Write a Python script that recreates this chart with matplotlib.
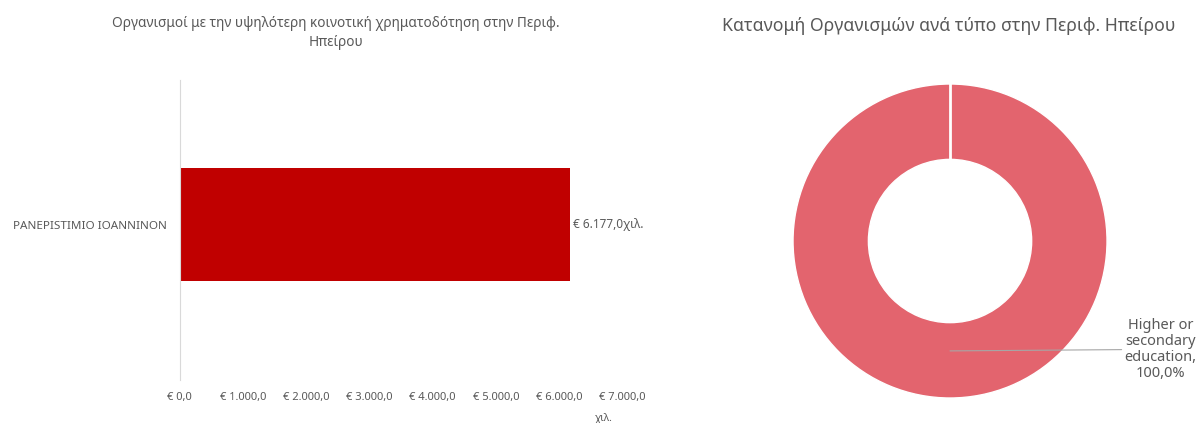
import matplotlib
matplotlib.use('Agg')
import matplotlib.pyplot as plt
from matplotlib.ticker import FuncFormatter

plt.rcParams['font.family'] = ['Noto Sans', 'DejaVu Sans']

# bar chart data (thousand euro)
orgs = ['PANEPISTIMIO IOANNINON']
funding = [6177.0]
x_ticks = [0, 1000, 2000, 3000, 4000, 5000, 6000, 7000]

# donut data
org_types = ['Higher or\nsecondary\neducation']
type_share = [100.0]

bar_title = 'Οργανισμοί με την υψηλότερη κοινοτική χρηματοδότηση στην Περιφ.\nΗπείρου'
pie_title = 'Κατανομή Οργανισμών ανά τύπο στην Περιφ. Ηπείρου'

text_col = '#595959'


def euro(v, pos=None):
    s = f'{v:,.1f}'.replace(',', 'X').replace('.', ',').replace('X', '.')
    return '€ ' + s


fig = plt.figure(figsize=(11.99, 4.23), dpi=100)

# left: horizontal bar
ax = fig.add_axes([0.150, 0.1017, 0.369, 0.709])
ax.barh(range(len(orgs)), funding, height=0.377, color='#C00000')
ax.set_xlim(0, 7000)
ax.set_ylim(-0.518, 0.482)
ax.set_xticks(x_ticks)
ax.xaxis.set_major_formatter(FuncFormatter(euro))
ax.set_yticks(range(len(orgs)))
ax.set_yticklabels(orgs)
ax.tick_params(axis='x', length=0, labelsize=8, colors=text_col, pad=9)
ax.tick_params(axis='y', length=0, labelsize=8.4, colors=text_col, pad=9)
for sp in ['top', 'right', 'bottom']:
    ax.spines[sp].set_visible(False)
ax.spines['left'].set_color('#D9D9D9')
for i, v in enumerate(funding):
    ax.text(v + 50, i, euro(v) + 'χιλ.', va='center', ha='left',
            fontsize=8.5, color=text_col)
ax.text(0.957, -0.13, 'χιλ.', transform=ax.transAxes, ha='center', va='center',
        fontsize=7.5, color=text_col)
fig.text(0.280, 0.922, bar_title, ha='center', va='center', fontsize=9.8,
         color=text_col, linespacing=1.45)

# right: donut
ax2 = fig.add_axes([0.6614, 0.0591, 0.2619, 0.7423])
ax2.pie(type_share, radius=1, startangle=90, counterclock=False,
        colors=['#E3646E'],
        wedgeprops=dict(width=0.48, edgecolor='white', linewidth=1))
# white seam where the single slice starts/ends
ax2.plot([0, 0], [0.52, 1.0], color='white', lw=2)
ax2.set_xlim(-1, 1)
ax2.set_ylim(-1, 1)
ax2.set_aspect('equal')
for lab, share in zip(org_types, type_share):
    ax2.annotate(f'{lab},\n{share:.1f}%'.replace('.', ','), xy=(0, -0.70),
                 xytext=(1.34, -0.69), ha='center', va='center',
                 fontsize=10.5, color=text_col, linespacing=1.1,
                 annotation_clip=False,
                 arrowprops=dict(arrowstyle='-', color='#A6A6A6', lw=0.8,
                                 shrinkA=0, shrinkB=0))
fig.text(0.791, 0.938, pie_title, ha='center', va='center', fontsize=12.7,
         color=text_col)

fig.savefig('out.png', dpi=100, facecolor='white')
